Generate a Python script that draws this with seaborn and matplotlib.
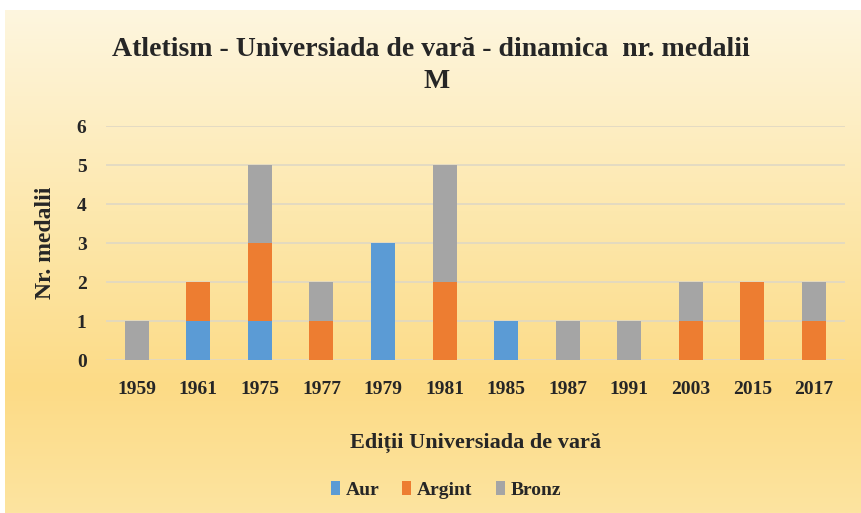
import numpy as np
import pandas as pd
import matplotlib
matplotlib.use('Agg')
import matplotlib.pyplot as plt
import seaborn as sns
from matplotlib.colors import LinearSegmentedColormap

## Data
editii = ['1959', '1961', '1975', '1977', '1979', '1981', '1985', '1987', '1991', '2003', '2015', '2017']
aur = [0, 1, 1, 0, 3, 0, 1, 0, 0, 0, 0, 0]
argint = [0, 1, 2, 1, 0, 2, 0, 0, 0, 1, 2, 1]
bronz = [1, 0, 2, 1, 0, 3, 0, 1, 1, 1, 0, 1]

df = pd.DataFrame({'Editie': editii, 'Aur': aur, 'Argint': argint, 'Bronz': bronz})

sns.set_style('white')
plt.rcParams['font.family'] = ['Liberation Serif', 'DejaVu Serif']
plt.rcParams['font.weight'] = 'bold'

fig = plt.figure(figsize=(8.62, 5.13), dpi=100)

# gradient background (white border top/left)
bg = fig.add_axes([0.006, 0, 0.994, 0.981], zorder=0)
grad_cmap = LinearSegmentedColormap.from_list(
    'bg', [(0, '#FDE4A0'), (0.25, '#FCDB86'), (0.6, '#FDE8AE'), (1, '#FEF6DF')])
bg.imshow(np.linspace(0, 1, 256).reshape(-1, 1), aspect='auto', cmap=grad_cmap,
          origin='lower', extent=[0, 1, 0, 1])
bg.axis('off')

ax = fig.add_axes([0.123, 0.298, 0.857, 0.456], zorder=1)
ax.patch.set_alpha(0)

w = 0.39
sns.barplot(data=df, x='Editie', y='Aur', color='#5B9BD5', width=w, label='Aur',
            saturation=1, linewidth=0, ax=ax, zorder=3)
sns.barplot(data=df, x='Editie', y='Argint', color='#ED7D31', width=w, label='Argint',
            saturation=1, linewidth=0, bottom=df['Aur'], ax=ax, zorder=3)
sns.barplot(data=df, x='Editie', y='Bronz', color='#A5A5A5', width=w, label='Bronz',
            saturation=1, linewidth=0, bottom=df['Aur'] + df['Argint'], ax=ax, zorder=3)

ax.set_ylim(0, 6)
ax.set_yticks(range(0, 7))
ax.grid(axis='y', color='#E0D8C4', linewidth=1.2, zorder=0)
ax.set_axisbelow(True)
sns.despine(ax=ax, left=True, bottom=True)
ax.tick_params(axis='both', length=0, labelsize=14)
ax.tick_params(axis='x', pad=15)
ax.tick_params(axis='y', pad=14)

ax.set_xlabel('Ediții Universiada de vară', fontsize=16, fontweight='bold', labelpad=25)
ax.set_ylabel('Nr. medalii', fontsize=17, fontweight='bold', labelpad=15)

fig.text(0.5, 0.903, 'Atletism - Universiada de vară - dinamica  nr. medalii',
         ha='center', va='center', fontsize=20, fontweight='bold')
fig.text(0.507, 0.841, 'M', ha='center', va='center', fontsize=20, fontweight='bold')

ax.legend(loc='center', bbox_to_anchor=(0.46, -0.555), ncol=3, frameon=False,
          fontsize=14, handlelength=0.45, handleheight=0.75, handletextpad=0.3,
          columnspacing=1.2)

fig.savefig('out.png', dpi=100)
